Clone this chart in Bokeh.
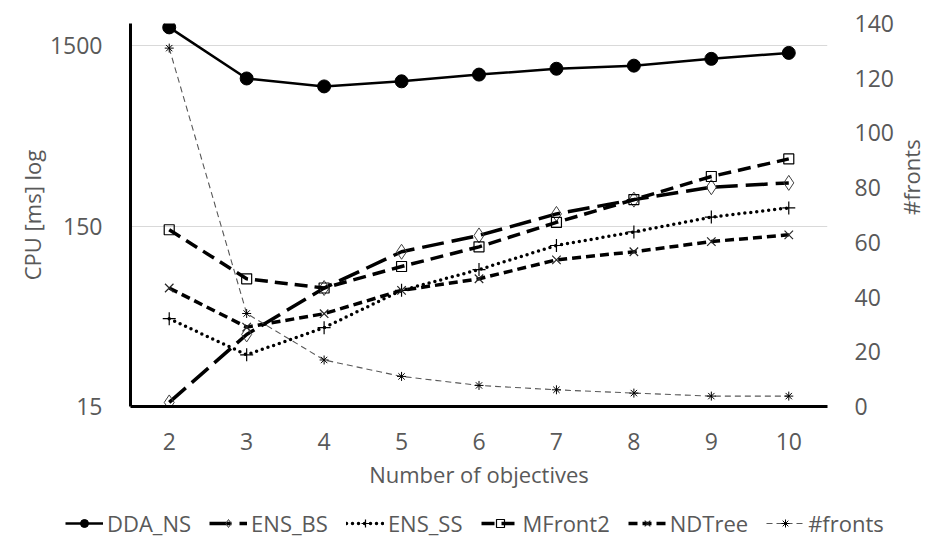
import math
from bokeh.plotting import figure
from bokeh.models import (Range1d, LinearAxis, LinearScale, FixedTicker,
                          PrintfTickFormatter, Legend, LegendItem)
from bokeh.embed import file_html
from bokeh.resources import INLINE

# ---- data ----
objectives = [2, 3, 4, 5, 6, 7, 8, 9, 10]
dda_ns = [1890, 985, 890, 950, 1035, 1115, 1160, 1265, 1365]
ens_bs = [15.8, 37.6, 68, 108, 133, 175, 210, 246, 260]
ens_ss = [46, 29, 41, 66, 86, 117, 139, 168, 189]
mfront2 = [143, 76.5, 68, 89.5, 115, 157, 210, 282, 353]
ndtree = [68, 41.3, 49, 66, 76.5, 97.4, 108, 123, 134]
fronts = [131, 34, 17, 11, 7.7, 6.1, 4.9, 3.8, 3.8]

left_ticks = [15, 150, 1500]
right_ticks = [0, 20, 40, 60, 80, 100, 120, 140]

FONT = "Open Sans"
GRAY = "#595959"

p = figure(width=946, height=498, y_axis_type="log",
           x_range=Range1d(1.5, 10.5), y_range=Range1d(15, 1986),
           output_backend="svg", toolbar_location=None,
           min_border_left=130, min_border_right=119,
           min_border_top=23, min_border_bottom=92)
p.outline_line_color = None
p.background_fill_color = "white"
p.extra_y_ranges = {"fronts": Range1d(0, 140)}
p.extra_y_scales = {"fronts": LinearScale()}

# grid
p.xgrid.visible = False
p.ygrid.ticker = FixedTicker(ticks=[150, 1500])
p.ygrid.grid_line_color = "#d9d9d9"
p.ygrid.grid_line_width = 1

# x axis
xa = p.xaxis[0]
xa.ticker = FixedTicker(ticks=objectives)
xa.axis_label = "Number of objectives"
xa.axis_line_color = "black"
xa.axis_line_width = 3
xa.major_tick_line_color = None
xa.minor_tick_line_color = None
xa.major_label_standoff = 20
xa.major_label_text_font = FONT
xa.major_label_text_font_size = "23px"
xa.major_label_text_color = GRAY
xa.axis_label_text_font = FONT
xa.axis_label_text_font_size = "22px"
xa.axis_label_text_font_style = "normal"
xa.axis_label_text_color = GRAY
xa.axis_label_standoff = 6

# left axis
ya = p.yaxis[0]
ya.ticker = FixedTicker(ticks=left_ticks)
ya.formatter = PrintfTickFormatter(format="%d")
ya.axis_label = "CPU [ms] log"
ya.axis_line_color = "black"
ya.axis_line_width = 3
ya.major_tick_line_color = None
ya.minor_tick_line_color = None
ya.major_label_standoff = 22
ya.major_label_text_font = FONT
ya.major_label_text_font_size = "23px"
ya.major_label_text_color = GRAY
ya.axis_label_text_font = FONT
ya.axis_label_text_font_size = "22px"
ya.axis_label_text_font_style = "normal"
ya.axis_label_text_color = GRAY
ya.axis_label_standoff = 0

# right axis
ra = LinearAxis(y_range_name="fronts", ticker=FixedTicker(ticks=right_ticks))
ra.axis_line_color = None
ra.major_tick_line_color = None
ra.minor_tick_line_color = None
ra.major_label_standoff = 21
ra.major_label_text_font = FONT
ra.major_label_text_font_size = "23px"
ra.major_label_text_color = GRAY
ra.axis_label = "#fronts"
ra.axis_label_text_font = FONT
ra.axis_label_text_font_size = "22px"
ra.axis_label_text_font_style = "normal"
ra.axis_label_text_color = GRAY
ra.axis_label_standoff = 14
if "axis_label_orientation" in ra.properties():
    ra.axis_label_orientation = math.pi / 2
p.add_layout(ra, "right")

# ---- series styles ----
styles = [
    ("DDA_NS", dda_ns, "default",
     dict(line_color="black", line_width=2.5),
     dict(marker="circle", size=13, fill_color="black", line_color="black")),
    ("ENS_BS", ens_bs, "default",
     dict(line_color="black", line_width=3.5, line_dash="22 8"),
     dict(marker="diamond", size=15, fill_alpha=0, line_color="#404040", line_width=1)),
    ("ENS_SS", ens_ss, "default",
     dict(line_color="black", line_width=3.5, line_dash="0 6", line_cap="round"),
     dict(marker="cross", size=13, line_color="black", line_width=1.2)),
    ("MFront2", mfront2, "default",
     dict(line_color="black", line_width=3.5, line_dash="13 7"),
     dict(marker="square", size=10, fill_alpha=0, line_color="black", line_width=1.2)),
    ("NDTree", ndtree, "default",
     dict(line_color="black", line_width=3.5, line_dash="9 5"),
     dict(marker="x", size=12, line_color="#262626", line_width=1.2)),
    ("#fronts", fronts, "fronts",
     dict(line_color=GRAY, line_width=1.1, line_dash="6 4"),
     dict(marker="asterisk", size=9, line_color="black", line_width=1)),
]

# legend-only figure below the chart (its copies of the series fall outside its frame)
lg = figure(width=930, height=50, output_backend="svg", toolbar_location=None,
            x_axis_location=None, y_axis_location=None,
            min_border=0, x_range=Range1d(-1, 0), y_range=Range1d(-1, 0))
lg.outline_line_color = None
lg.grid.visible = False

items = []
for name, vals, rng, lkw, skw in styles:
    p.line(objectives, vals, y_range_name=rng, **lkw)
    p.scatter(objectives, vals, y_range_name=rng, **skw)
    ll = lg.line(objectives, vals, **lkw)
    ls = lg.scatter(objectives, vals, **skw)
    items.append(LegendItem(label=name, renderers=[ll, ls]))

legend = Legend(items=items, orientation="horizontal", location=(65, 10),
                label_text_font=FONT, label_text_font_size="22px",
                label_text_color=GRAY, glyph_width=38, glyph_height=20,
                label_standoff=4, spacing=18, padding=0, margin=0,
                border_line_color=None, background_fill_alpha=0)
lg.add_layout(legend, "center")

open("out.html", "w").write(file_html([p, lg], INLINE))
